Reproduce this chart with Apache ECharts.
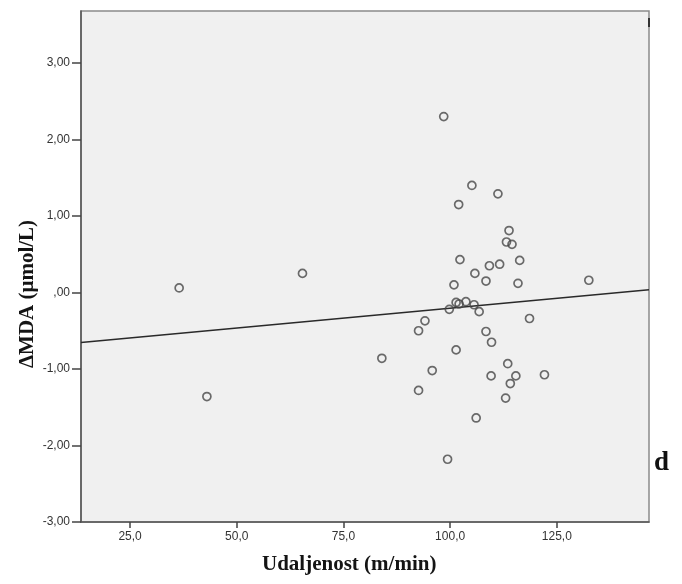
<!DOCTYPE html>
<html>
<head>
<meta charset="utf-8">
<script src="https://cdn.jsdelivr.net/npm/echarts@6/dist/echarts.min.js"></script>
<style>
  html, body { margin: 0; padding: 0; background: #ffffff; }
  #chart { width: 682px; height: 584px; }
</style>
</head>
<body>
<div id="chart"></div>
<script>
// Walking distance (m/min) per subject
const distance = [
  36.5, 43.0, 65.4, 84.0, 92.6, 92.6, 94.1, 95.8, 98.5, 99.4,
  99.8, 100.9, 101.4, 101.4, 102.0, 102.1, 102.3, 103.7, 105.1, 105.6,
  105.8, 106.1, 106.8, 108.4, 108.4, 109.2, 109.7, 109.6, 111.2, 111.6,
  113.0, 113.2, 113.5, 113.8, 114.1, 114.5, 115.4, 115.9, 116.3, 118.6,
  122.1, 132.5
];
// Change in MDA (µmol/L) per subject
const deltaMDA = [
  0.06, -1.36, 0.25, -0.86, -0.50, -1.28, -0.37, -1.02, 2.30, -2.18,
  -0.22, 0.10, -0.75, -0.13, 1.15, -0.15, 0.43, -0.12, 1.40, -0.16,
  0.25, -1.64, -0.25, 0.15, -0.51, 0.35, -0.65, -1.09, 1.29, 0.37,
  -1.38, 0.66, -0.93, 0.81, -1.19, 0.63, -1.09, 0.12, 0.42, -0.34,
  -1.075, 0.16
];
// Fitted linear trend, evaluated at the axis ends
const fitX = [13.5, 146.6];
const fitY = [-0.653, 0.036];

const xTicks = [25, 50, 75, 100, 125];
const yTicks = [-3, -2, -1, 0, 1, 2, 3];

const xRange = [13.5, 146.6];
const yRange = [-3, 3.68];

function commaFixed(v, digits) {
  let s = Math.abs(v).toFixed(digits).replace('.', ',');
  if (s.startsWith('0,')) s = s.slice(1);
  return (v < 0 ? '-' : '') + s;
}

const chart = echarts.init(document.getElementById('chart'), null, { renderer: 'canvas' });

const tickFont = { fontFamily: 'Liberation Sans, Arial, sans-serif', fontSize: 12, color: '#333' };
const titleFont = 'bold 21px "Liberation Serif", "Times New Roman", serif';

chart.setOption({
  animation: false,
  backgroundColor: '#ffffff',
  grid: {
    left: 81, right: 33, top: 11, bottom: 62,
    show: true,
    backgroundColor: '#f0f0f0',
    borderColor: '#8a8a8a',
    borderWidth: 1.5
  },
  xAxis: {
    type: 'value',
    min: xRange[0], max: xRange[1],
    axisLine: { show: true, onZero: false, lineStyle: { color: '#555', width: 1.5 } },
    axisTick: { show: true, customValues: xTicks, length: 6, lineStyle: { color: '#444', width: 1.5 } },
    axisLabel: {
      customValues: xTicks, margin: 9, ...tickFont,
      formatter: v => commaFixed(v, 1)
    },
    splitLine: { show: false }
  },
  yAxis: {
    type: 'value',
    min: yRange[0], max: yRange[1],
    axisLine: { show: true, onZero: false, lineStyle: { color: '#555', width: 1.5 } },
    axisTick: { show: true, customValues: yTicks, length: 9, lineStyle: { color: '#444', width: 1.5 } },
    axisLabel: {
      customValues: yTicks, margin: 11, ...tickFont,
      formatter: v => commaFixed(v, 2)
    },
    splitLine: { show: false }
  },
  series: [
    {
      type: 'line',
      data: fitX.map((x, i) => [x, fitY[i]]),
      showSymbol: false,
      lineStyle: { color: '#2a2a2a', width: 1.6 },
      z: 2
    },
    {
      type: 'scatter',
      data: distance.map((x, i) => [x, deltaMDA[i]]),
      symbol: 'circle',
      symbolSize: 8,
      itemStyle: { color: 'rgba(0,0,0,0)', borderColor: '#474747', borderWidth: 1.7 },
      z: 3
    }
  ],
  graphic: [
    {
      type: 'text', left: 262, top: 554,
      style: { text: 'Udaljenost (m/min)', font: titleFont, fill: '#141414' }
    },
    {
      type: 'text', x: 28, y: 294, rotation: Math.PI / 2,
      style: { text: 'ΔMDA (μmol/L)', font: titleFont, fill: '#141414', align: 'center', verticalAlign: 'middle' }
    },
    {
      type: 'text', left: 654, top: 450,
      style: { text: 'd', font: 'bold 27px "Liberation Serif", "Times New Roman", serif', fill: '#111' }
    },
    {
      type: 'rect', shape: { x: 648, y: 18, width: 2, height: 9 },
      style: { fill: '#333' }
    }
  ]
});
</script>
</body>
</html>
